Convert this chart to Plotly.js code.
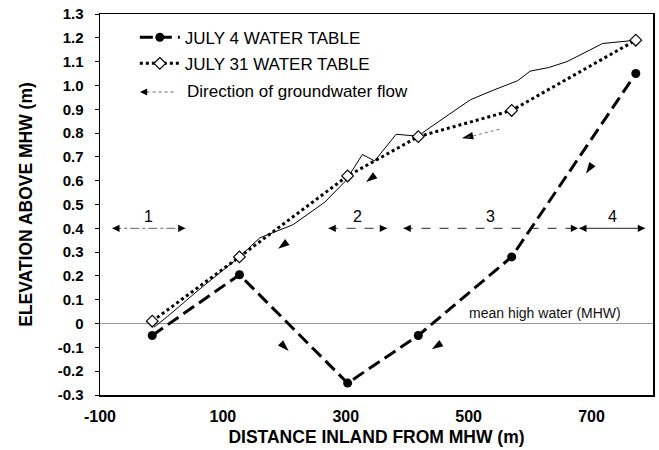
<!DOCTYPE html>
<html>
<head>
<meta charset="utf-8">
<script src="https://cdn.plot.ly/plotly-3.0.1.min.js"></script>
<style>html,body{margin:0;padding:0;background:#fff;}#chart{width:659px;height:450px;}</style>
</head>
<body>
<div id="chart"></div>
<script>
// ---- data ----
const distance = [-15, 127, 303, 418, 570, 772];
const july4 = [-0.05, 0.205, -0.25, -0.05, 0.28, 1.05];
const july31 = [0.01, 0.28, 0.62, 0.785, 0.895, 1.19];
const groundX = [-12, 10, 60, 127, 160, 180, 214, 266, 300, 327, 347, 382, 417, 469, 503, 540, 580, 600, 630, 660, 718, 772];
const groundY = [-0.015, 0.03, 0.14, 0.28, 0.36, 0.38, 0.415, 0.51, 0.60, 0.71, 0.683, 0.795, 0.787, 0.88, 0.94, 0.98, 1.02, 1.06, 1.075, 1.10, 1.176, 1.19];
const regionLabels = ['1', '2', '3', '4'];
const regionStart = [-80, 272, 394, 680];
const regionEnd = [39, 367, 678, 787];
const regionLevel = 0.40;
const flowX = [489, 333, 190, 691, 207, 440];
const flowY = [0.778, 0.594, 0.314, 0.63, -0.115, -0.108];
const flowAngle = [-103, -127, -127, -146, 135, -123];
const xTicks = [-100, 100, 300, 500, 700];
const yTicks = [-0.3, -0.2, -0.1, 0, 0.1, 0.2, 0.3, 0.4, 0.5, 0.6, 0.7, 0.8, 0.9, 1.0, 1.1, 1.2, 1.3];
const yTickText = ['-0.3', '-0.2', '-0.1', '0', '0.1', '0.2', '0.3', '0.4', '0.5', '0.6', '0.7', '0.8', '0.9', '1.0', '1.1', '1.2', '1.3'];

const FONT = 'Liberation Sans, Arial, Helvetica, sans-serif';

const traces = [
  {x: groundX, y: groundY, mode: 'lines', line: {color: '#000', width: 1}, showlegend: false, hoverinfo: 'skip'},
  {x: distance, y: july4, name: 'JULY 4 WATER TABLE', mode: 'lines+markers', legendgroup: 'a',
   line: {color: '#000', width: 3, dash: '13px,6px'},
   marker: {symbol: 'circle', size: 9, color: '#000'}},
  {x: distance, y: july31, name: 'JULY 31 WATER TABLE', mode: 'lines+markers', legendgroup: 'b',
   line: {color: '#000', width: 3, dash: 'dot'},
   marker: {symbol: 'diamond', size: 9, color: '#fff', line: {color: '#000', width: 1.2}}},
  {x: flowX, y: flowY, mode: 'markers', showlegend: false, hoverinfo: 'skip',
   marker: {symbol: 'arrow', size: 12, color: '#000', angle: flowAngle, line: {width: 0}}}
];

const shapes = [];
const annotations = [];
function head(x, y, dx, dy, ref) {
  const L = 8;
  annotations.push({x: x, y: y, xref: ref ? ref[0] : 'x', yref: ref ? ref[1] : 'y', text: '', showarrow: true,
    ax: -dx * L, ay: -dy * L, arrowhead: 2, arrowsize: 1.2, arrowwidth: 1.2, arrowcolor: '#000', standoff: 0});
}
// region arrows
const regionDash = ['dashdot', 'dash', 'dash', 'solid'];
const regionColor = ['#666', '#333', '#222', '#222'];
for (let i = 0; i < regionLabels.length; i++) {
  shapes.push({type: 'line', xref: 'x', yref: 'y', x0: regionStart[i], x1: regionEnd[i], y0: regionLevel, y1: regionLevel,
    line: {color: regionColor[i], width: 1, dash: regionDash[i]}});
  head(regionStart[i], regionLevel, -1, 0);
  head(regionEnd[i], regionLevel, 1, 0);
  annotations.push({x: (regionStart[i] + regionEnd[i]) / 2, y: regionLevel, yshift: 12, xref: 'x', yref: 'y',
    text: regionLabels[i], showarrow: false, font: {family: FONT, size: 16, color: '#000'}});
}
// dotted tail of the upper flow arrow
shapes.push({type: 'line', xref: 'x', yref: 'y', x0: flowX[0] + 9, y0: flowY[0] + 0.004, x1: 550, y1: 0.816,
  line: {color: '#777', width: 1, dash: 'dot'}});
// MHW label
annotations.push({x: 625, y: 0, xref: 'x', yref: 'y', yanchor: 'bottom', yshift: 1, text: 'mean high water (MHW)',
  showarrow: false, font: {family: FONT, size: 14, color: '#111'}});
// legend third item
const lx0 = (140 - 100) / 553, lx1 = (176 - 100) / 553, ly = (395 - 92) / 381;
shapes.push({type: 'line', xref: 'paper', yref: 'paper', x0: lx0 + 0.012, x1: lx1, y0: ly, y1: ly, line: {color: '#666', width: 1, dash: 'dot'}});
head(lx0, ly, -1, 0, ['paper', 'paper']);
annotations.push({x: (185 - 100) / 553, y: ly, xref: 'paper', yref: 'paper', xanchor: 'left', yanchor: 'middle',
  text: 'Direction of groundwater flow', showarrow: false, font: {family: FONT, size: 17, color: '#000'}});

const layout = {
  width: 659, height: 450,
  margin: {l: 100, r: 6, t: 14, b: 55},
  paper_bgcolor: '#fff', plot_bgcolor: '#fff',
  font: {family: FONT, color: '#000'},
  showlegend: true,
  legend: {x: 0.063, y: 0.985, xanchor: 'left', yanchor: 'top', bgcolor: 'rgba(0,0,0,0)', borderwidth: 0,
    font: {family: FONT, size: 17, color: '#000'}, itemwidth: 40, tracegroupgap: 1},
  xaxis: {range: [-100, 800], tickvals: xTicks, ticktext: xTicks.map(String), ticks: '', showgrid: false, zeroline: false,
    showline: true, mirror: true, linecolor: '#000', linewidth: 1.5, ticklabelstandoff: 6,
    tickfont: {family: FONT, size: 16, color: '#000', weight: 'bold'},
    title: {text: 'DISTANCE INLAND FROM MHW (m)', font: {family: FONT, size: 17.5, color: '#000', weight: 'bold'}, standoff: 7}},
  yaxis: {range: [-0.3, 1.3], tickvals: yTicks, ticktext: yTickText, ticks: 'outside', ticklen: 4, tickwidth: 1, tickcolor: '#000',
    showgrid: false, zeroline: true, zerolinecolor: '#999', zerolinewidth: 1,
    showline: true, mirror: true, linecolor: '#000', linewidth: 1.5, ticklabelstandoff: 8,
    tickfont: {family: FONT, size: 15, color: '#000', weight: 'bold'},
    title: {text: 'ELEVATION ABOVE MHW (m)', font: {family: FONT, size: 17.5, color: '#000', weight: 'bold'}, standoff: 20}},
  shapes: shapes,
  annotations: annotations
};
Plotly.newPlot('chart', traces, layout, {staticPlot: true, displayModeBar: false});
</script>
</body>
</html>
